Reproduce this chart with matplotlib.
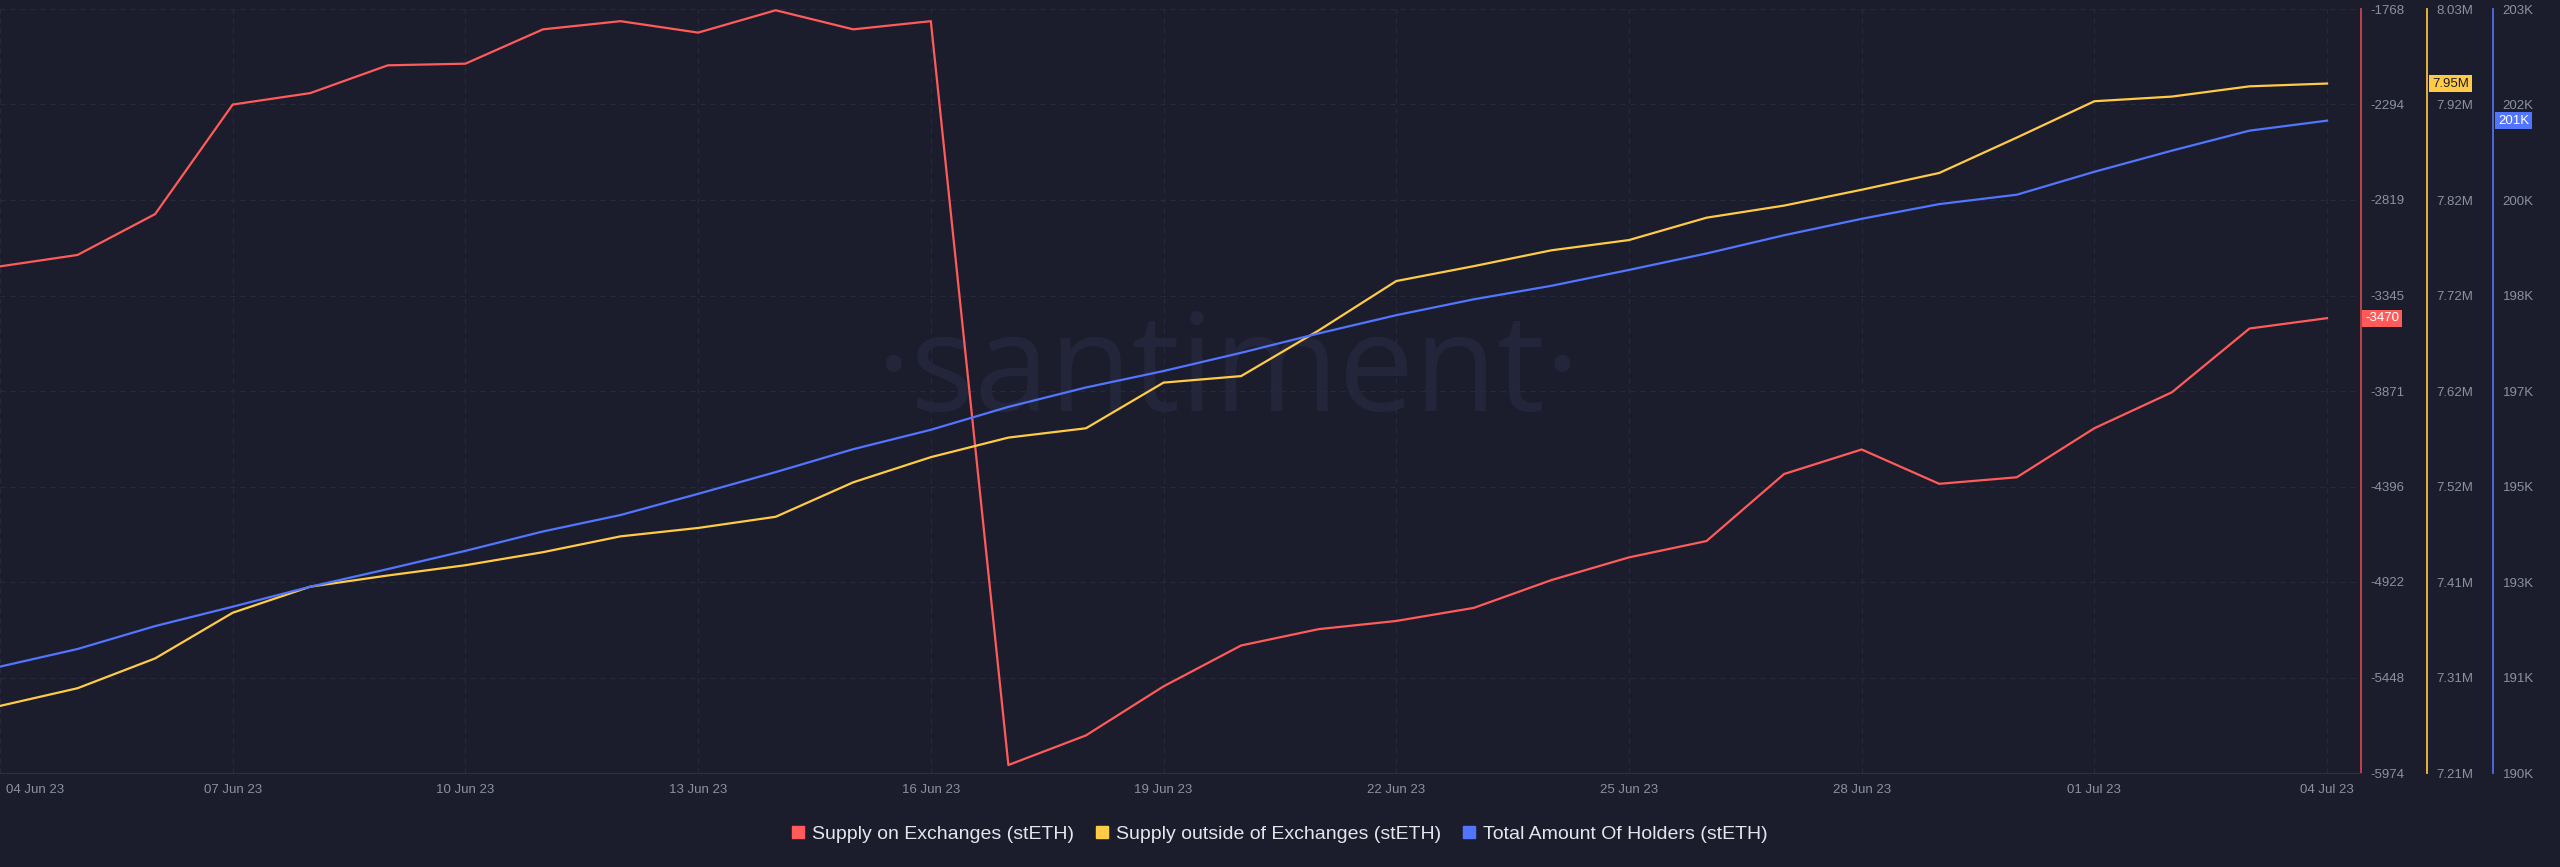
import matplotlib.pyplot as plt
from matplotlib.lines import Line2D
from matplotlib.transforms import blended_transform_factory, offset_copy
import numpy as np
import pandas as pd

# daily values, 04 Jun 23 .. 04 Jul 23
dates = pd.date_range('2023-06-04', '2023-07-04', freq='D')

supply_on_exchanges = [-3185, -3122, -2897, -2294, -2231, -2078, -2069, -1880, -1835, -1898,
                       -1775, -1880, -1835, -5930, -5767, -5497, -5272, -5182, -5137, -5065,
                       -4912, -4787, -4697, -4328, -4193, -4382, -4346, -4076, -3878, -3527,
                       -3470]
supply_outside_exchanges = [7.282, 7.301, 7.333, 7.382, 7.410, 7.422, 7.433, 7.447, 7.464, 7.473,
                            7.485, 7.522, 7.549, 7.570, 7.580, 7.629, 7.636, 7.685, 7.738, 7.754,
                            7.771, 7.782, 7.806, 7.819, 7.836, 7.854, 7.892, 7.931, 7.936, 7.947,
                            7.950]  # millions
total_holders = [191.81, 192.11, 192.50, 192.83, 193.17, 193.47, 193.78, 194.11, 194.39, 194.75,
                 195.12, 195.51, 195.84, 196.23, 196.56, 196.84, 197.15, 197.48, 197.79, 198.06,
                 198.29, 198.56, 198.84, 199.15, 199.43, 199.68, 199.84, 200.23, 200.59, 200.93,
                 201.10]  # thousands

red_labels = ['-5974', '-5448', '-4922', '-4396', '-3871', '-3345', '-2819', '-2294', '-1768']
yellow_labels = ['7.21M', '7.31M', '7.41M', '7.52M', '7.62M', '7.72M', '7.82M', '7.92M', '8.03M']
blue_labels = ['190K', '191K', '193K', '195K', '197K', '198K', '200K', '202K', '203K']

series_names = ['Supply on Exchanges (stETH)', 'Supply outside of Exchanges (stETH)',
                'Total Amount Of Holders (stETH)']

bg = '#1b1d2c'
grey = '#8b91a3'
red, yellow, blue = '#ff5b5b', '#ffcb47', '#5275ff'
plt.rcParams['font.family'] = ['Liberation Sans', 'DejaVu Sans']

W, H = 2560, 867
fig = plt.figure(figsize=(W / 100, H / 100), dpi=100, facecolor=bg)
ax = fig.add_axes([0, 1 - 773 / H, 2361 / W, (773 - 9) / H])
ax.set_facecolor(bg)
ax_y = ax.twinx()
ax_b = ax.twinx()
ax_y.spines['right'].set_position(('axes', 2427 / 2361))
ax_b.spines['right'].set_position(('axes', 2493 / 2361))

# watermark
ax.text(0.52, 0.52, '·santiment·', transform=ax.transAxes, ha='center', va='center',
        fontsize=97, family='Open Sans', color='#23263a', zorder=0)

ax.plot(dates, supply_on_exchanges, color=red, lw=1.6, zorder=3)
ax_y.plot(dates, np.array(supply_outside_exchanges) * 1e6, color=yellow, lw=1.6)
ax_b.plot(dates, np.array(total_holders) * 1e3, color=blue, lw=1.6)

ax.set_xlim(dates[0], dates[-1] + pd.Timedelta(hours=10.5))
ax.set_ylim(-5974, -1768)
ax_y.set_ylim(7.21e6, 8.03e6)
ax_b.set_ylim(190000, 203000)

ax.yaxis.tick_right()
ax.set_yticks(np.linspace(-5974, -1768, 9))
ax.set_yticklabels(red_labels)
ax_y.set_yticks(np.linspace(7.21e6, 8.03e6, 9))
ax_y.set_yticklabels(yellow_labels)
ax_b.set_yticks(np.linspace(190000, 203000, 9))
ax_b.set_yticklabels(blue_labels)

xt = dates[::3]
ax.set_xticks(xt)
ax.set_xticklabels([d.strftime('%d %b %y') for d in xt])
ax.tick_params(axis='x', length=0, pad=8, labelcolor=grey, labelsize=9.5)
first = ax.get_xticklabels()[0]
first.set_horizontalalignment('left')
first.set_transform(offset_copy(first.get_transform(), fig=fig, x=6, units='dots'))

spine_cols = {ax: '#c8474c', ax_y: '#f5bf3c', ax_b: '#4f6ee6'}
for a in (ax, ax_y, ax_b):
    a.tick_params(axis='y', length=0, pad=7, labelcolor=grey, labelsize=9.5)
    for s in ['left', 'top', 'bottom']:
        a.spines[s].set_visible(False)
    a.spines['right'].set_color(spine_cols[a])
    a.spines['right'].set_linewidth(1.3)
ax.spines['bottom'].set_visible(True)
ax.spines['bottom'].set_color('#2c3042')

ax.grid(True, color='#262a3c', linestyle=(0, (4, 4)), lw=0.9)
ax.set_axisbelow(True)

# last-value boxes
boxes = [(ax, supply_on_exchanges[-1], '-3470', red, 'white', 2365),
         (ax_y, supply_outside_exchanges[-1] * 1e6, '7.95M', yellow, bg, 2432),
         (ax_b, total_holders[-1] * 1e3, '201K', blue, 'white', 2498)]
for a, v, txt, c, tc, px in boxes:
    tr = blended_transform_factory(ax.transAxes, a.transData)
    a.text(px / 2361, v, txt, transform=tr, ha='left', va='center', fontsize=9.5,
           color=tc, bbox=dict(boxstyle='square,pad=0.2', fc=c, ec='none'), zorder=5,
           clip_on=False)

handles = [Line2D([], [], marker='s', ls='none', color=c, markersize=8.5) for c in (red, yellow, blue)]
fig.legend(handles, series_names, loc='center', bbox_to_anchor=(0.5, 1 - 834 / H), ncol=3,
           frameon=False, fontsize=14.0, labelcolor='#e4e6ec', handlelength=0.6,
           handletextpad=0.4, columnspacing=1.15)

fig.savefig('out.png', dpi=100, facecolor=bg)
